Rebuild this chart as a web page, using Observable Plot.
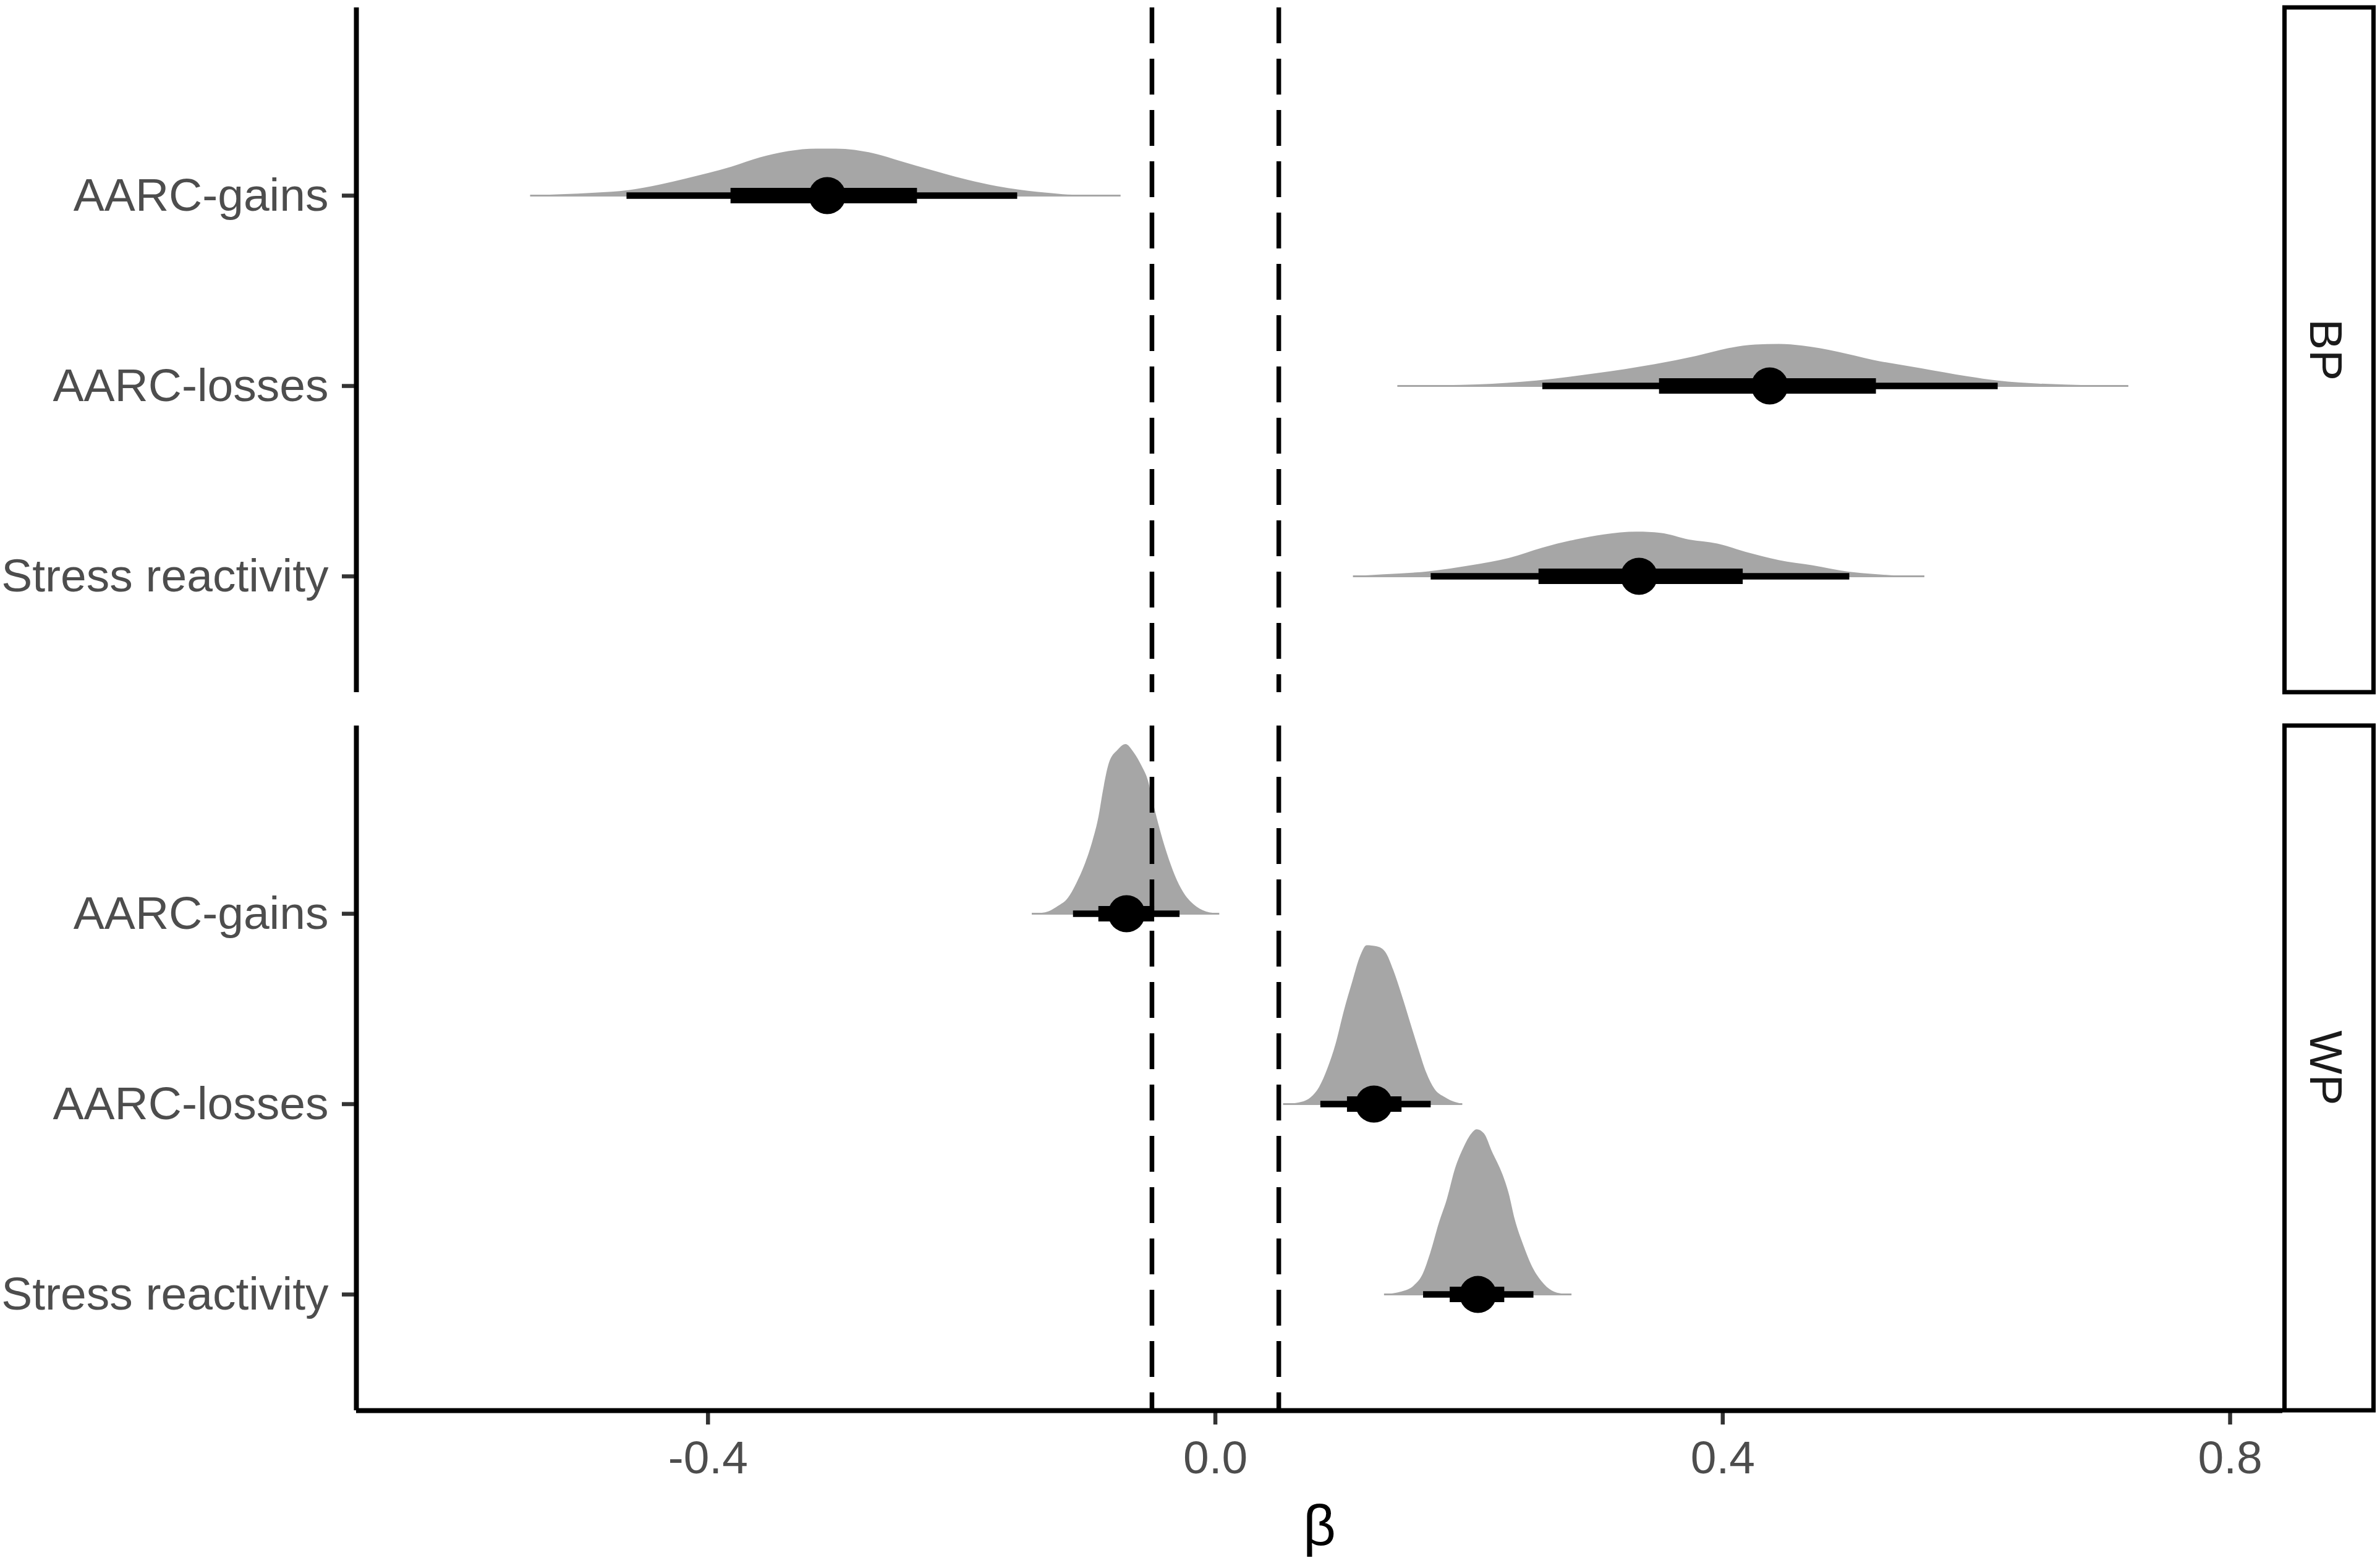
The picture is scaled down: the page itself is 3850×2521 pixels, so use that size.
<!DOCTYPE html>
<html><head><meta charset="utf-8">
<script src="https://cdn.jsdelivr.net/npm/d3@7"></script>
<script src="https://cdn.jsdelivr.net/npm/@observablehq/plot@0.6"></script>
<style>html,body{margin:0;padding:0;background:#fff;} #chart{width:3850px;height:2521px;}</style>
</head><body><div id="chart"></div>
<script>
// ---------- data ----------
const panels = ["BP", "WP"];
const predictors = ["AARC-gains", "AARC-losses", "Stress reactivity"];
const rowPos = [2, 1, 0];
const xTicks = [-0.4, 0.0, 0.4, 0.8];
const ropeBounds = [-0.05, 0.05];
const xTitle = "β";

// point estimates and intervals (66% thick, 95% thin)
const medianBP = [-0.306, 0.437, 0.334];
const lo66BP = [-0.382, 0.350, 0.255];
const hi66BP = [-0.235, 0.521, 0.416];
const lo95BP = [-0.464, 0.258, 0.170];
const hi95BP = [-0.156, 0.617, 0.500];

const medianWP = [-0.070, 0.125, 0.207];
const lo66WP = [-0.092, 0.104, 0.185];
const hi66WP = [-0.048, 0.147, 0.228];
const lo95WP = [-0.112, 0.083, 0.164];
const hi95WP = [-0.028, 0.170, 0.251];

// posterior density slabs: x values and slab thickness (fraction of row spacing)
const densBPgainsX = [-0.540,-0.5155,-0.489,-0.463,-0.437,-0.4185,-0.381,-0.3586,-0.3366,-0.3143,-0.299,-0.2694,-0.247,-0.2246,-0.1949,-0.1725,-0.154,-0.1277,-0.1126,-0.0745];
const densBPgainsT = [0,0.0055,0.0139,0.0269,0.058,0.0864,0.1511,0.1997,0.232,0.245,0.245,0.221,0.178,0.135,0.0809,0.0485,0.0291,0.0107,0.0032,0];
const densBPlossesX = [0.1437,0.2067,0.2533,0.2999,0.3465,0.3791,0.4071,0.4258,0.4445,0.4631,0.4911,0.5190,0.5563,0.5936,0.617,0.6495,0.6705,0.720];
const densBPlossesT = [0,0.007,0.027,0.065,0.113,0.156,0.2,0.216,0.219,0.21,0.178,0.135,0.092,0.049,0.027,0.011,0.006,0];
const densBPstressX = [0.1087,0.1330,0.1684,0.2020,0.2318,0.2579,0.2840,0.3064,0.3325,0.3511,0.3735,0.3959,0.4183,0.4444,0.4704,0.5003,0.5189,0.5376,0.5592];
const densBPstressT = [0,0.009,0.025,0.057,0.095,0.149,0.192,0.219,0.233,0.227,0.192,0.171,0.127,0.084,0.057,0.022,0.011,0.003,0];

const densWPgainsX = [-0.1445,-0.1340,-0.1242,-0.1161,-0.1096,-0.1031,-0.0966,-0.0918,-0.0885,-0.0836,-0.0771,-0.0706,-0.0642,-0.0576,-0.0528,-0.0495,-0.0447,-0.0381,-0.0317,-0.0252,-0.0171,-0.0073,0.0033];
const densWPgainsT = [0,0.006,0.038,0.081,0.156,0.253,0.383,0.512,0.642,0.793,0.858,0.89,0.847,0.771,0.696,0.599,0.469,0.318,0.2,0.113,0.049,0.011,0];
const densWPlossesX = [0.0536,0.0658,0.0755,0.0820,0.0885,0.0950,0.1015,0.1080,0.1145,0.1194,0.1275,0.1340,0.1405,0.1470,0.1535,0.1600,0.1665,0.1730,0.1811,0.1876,0.1949];
const densWPlossesT = [0,0.007,0.035,0.088,0.185,0.315,0.488,0.639,0.779,0.833,0.827,0.8,0.703,0.574,0.434,0.294,0.164,0.078,0.035,0.013,0];
const densWPstressX = [0.1332,0.1470,0.1567,0.1632,0.1697,0.1762,0.1827,0.1892,0.1957,0.2022,0.2062,0.2119,0.2184,0.2266,0.2314,0.2363,0.2428,0.2493,0.2574,0.2655,0.2737,0.2810];
const densWPstressT = [0,0.014,0.046,0.1,0.219,0.37,0.499,0.661,0.769,0.845,0.866,0.845,0.748,0.629,0.532,0.392,0.262,0.154,0.068,0.019,0.003,0];

// ---------- tables built from the arrays ----------
const stats = {
  BP: {median: medianBP, lo66: lo66BP, hi66: hi66BP, lo95: lo95BP, hi95: hi95BP,
       dens: [[densBPgainsX, densBPgainsT], [densBPlossesX, densBPlossesT], [densBPstressX, densBPstressT]]},
  WP: {median: medianWP, lo66: lo66WP, hi66: hi66WP, lo95: lo95WP, hi95: hi95WP,
       dens: [[densWPgainsX, densWPgainsT], [densWPlossesX, densWPlossesT], [densWPstressX, densWPstressT]]}
};
const rows = [], slabs = [], extents = [];
for (const panel of panels) {
  const s = stats[panel];
  predictors.forEach((pred, i) => {
    const pos = rowPos[i];
    rows.push({panel, pred, pos, median: s.median[i], lo66: s.lo66[i], hi66: s.hi66[i], lo95: s.lo95[i], hi95: s.hi95[i]});
    const [xs, ts] = s.dens[i];
    xs.forEach((x, j) => slabs.push({panel, key: panel + pred, x, base: pos, top: pos + ts[j]}));
    extents.push({panel, pos, min: xs[0], max: xs[xs.length - 1]});
  });
}

// ---------- layout ----------
const W = 3850, H = 2521;
const mL = 576, mR = 158, mT = 12, mB = 239;
const xDomain = [-0.6772, 0.8414];
const yDomain = [-0.61, 2.987];

const plot = Plot.plot({
  width: W, height: H,
  marginLeft: mL, marginRight: mR, marginTop: mT, marginBottom: mB,
  style: {fontFamily: "'Liberation Sans', Arial, sans-serif", background: "#ffffff", overflow: "visible"},
  x: {domain: xDomain},
  y: {domain: yDomain},
  fy: {domain: panels, paddingInner: 0.0465, paddingOuter: 0, round: false, axis: null, label: null},
  marks: [
    Plot.areaY(slabs, {x: "x", y1: "base", y2: "top", z: "key", fy: "panel", fill: "#a6a6a6", curve: "monotone-x"}),
    Plot.ruleY(extents, {y: "pos", x1: "min", x2: "max", fy: "panel", stroke: "#a6a6a6", strokeWidth: 3}),
    Plot.ruleY(rows, {y: "pos", x1: "lo95", x2: "hi95", fy: "panel", stroke: "black", strokeWidth: 10.5}),
    Plot.ruleY(rows, {y: "pos", x1: "lo66", x2: "hi66", fy: "panel", stroke: "black", strokeWidth: 25}),
    Plot.dot(rows, {x: "median", y: "pos", fy: "panel", r: 30, fill: "black", stroke: null}),
    Plot.ruleX(ropeBounds, {stroke: "black", strokeWidth: 7.5, strokeDasharray: "58,25"}),
    Plot.axisY({ticks: rowPos, tickFormat: p => predictors[rowPos.indexOf(p)], tickSize: 23, tickPadding: 22,
                fontSize: 75, color: "#4d4d4d", stroke: "#333333", strokeWidth: 6.5, label: null}),
    Plot.axisX({ticks: xTicks, tickFormat: d => d.toFixed(1), tickSize: 23, tickPadding: 25,
                fontSize: 75, color: "#4d4d4d", stroke: "#333333", strokeWidth: 6.5, label: null}),
    Plot.ruleX([xDomain[0]], {stroke: "black", strokeWidth: 8}),
    Plot.ruleY([{panel: "WP", y: yDomain[0]}], {y: "y", fy: "panel", stroke: "black", strokeWidth: 8}),
    Plot.text([{panel: "WP", label: xTitle}], {text: "label", fy: "panel", frameAnchor: "bottom", dy: 188,
                fontSize: 92, fill: "black", lineAnchor: "middle"})
  ]
});
document.getElementById("chart").appendChild(plot);

// ---------- facet strips on the right ----------
const svg = d3.select(plot.tagName.toLowerCase() === "svg" ? plot : plot.querySelector("svg"));
const fy = plot.scale("fy");
for (const p of panels) {
  const y0 = fy.apply(p), bw = fy.bandwidth;
  const x0 = W - mR;
  svg.append("rect").attr("x", x0 + 3.5).attr("y", y0).attr("width", 144).attr("height", bw)
    .attr("fill", "white").attr("stroke", "black").attr("stroke-width", 7);
  svg.append("text").attr("transform", `translate(${x0 + 71},${y0 + bw / 2}) rotate(90)`)
    .attr("text-anchor", "middle").attr("dominant-baseline", "central")
    .attr("font-size", 75).attr("fill", "#1a1a1a").text(p);
}
</script>
</body></html>
